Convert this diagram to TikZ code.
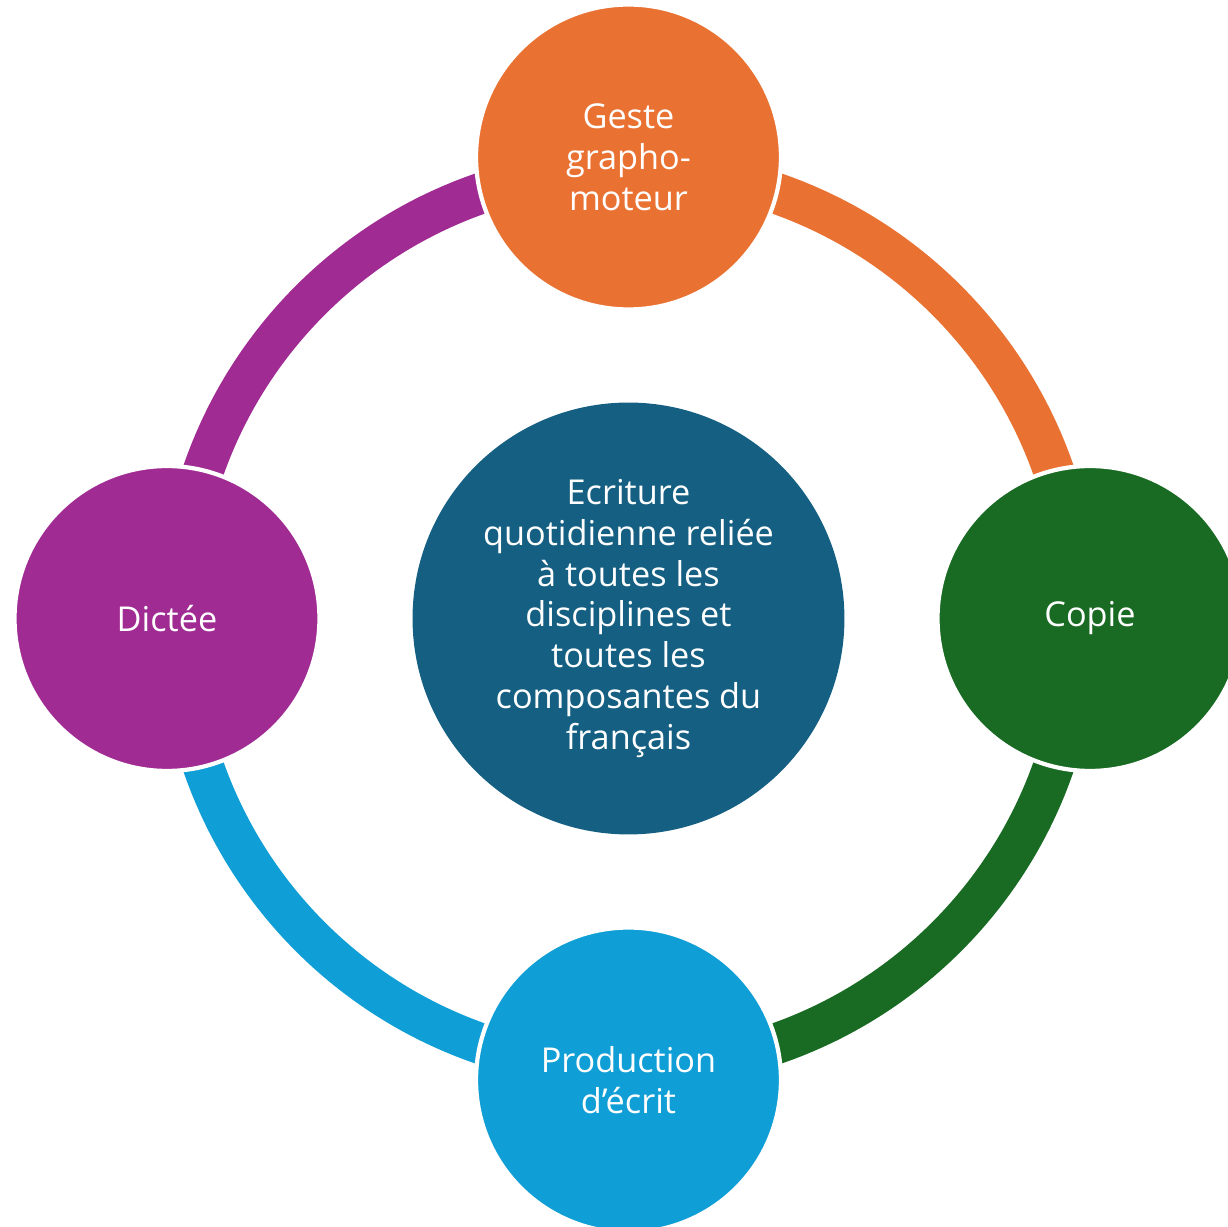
\documentclass[tikz,border=0pt]{standalone}
\usepackage{fontspec}
\setmainfont{Open Sans}
\definecolor{gesteorange}{HTML}{E97132}
\definecolor{copiegreen}{HTML}{196B24}
\definecolor{prodcyan}{HTML}{0F9ED5}
\definecolor{dicteepurple}{HTML}{A02B93}
\definecolor{hubblue}{HTML}{156082}

\begin{document}
\begin{tikzpicture}[x=0.02cm,y=0.02cm,
  hub/.style={circle, fill=hubblue, minimum size=8.64cm, inner sep=0pt,
    text=white, align=center, font=\fontsize{19.5}{23.3}\selectfont},
  satellite/.style={circle, fill=#1, draw=white, line width=2.4pt,
    minimum size=6.1cm, inner sep=0pt, text=white, align=center,
    font=\fontsize{19.5}{23.3}\selectfont},
  ringarc/.style={draw=#1, line width=0.82cm}]
  \useasboundingbox (-628.5,-608.5) rectangle (599.5,618.5);
  \node[hub] (hub) at (0,0) {Ecriture\\quotidienne reliée\\à toutes les\\disciplines et\\toutes les\\composantes du\\français};
  % ring pieces, clockwise
  \foreach \a/\col in {90/gesteorange,0/copiegreen,-90/prodcyan,180/dicteepurple}
    \draw[ringarc=\col] ([shift={(\a:450)}]hub.center) arc[start angle=\a, end angle=\a-90, radius=450];
  \node[satellite=gesteorange] (geste) at (90:461.5) {Geste\\grapho-\\moteur};
  \node[satellite=copiegreen] (copie) at (0:461.5) {Copie};
  \node[satellite=prodcyan] (prod) at (-90:461.5) {Production\\d’écrit};
  \node[satellite=dicteepurple] (dictee) at (180:461.5) {Dictée};
\end{tikzpicture}
\end{document}
